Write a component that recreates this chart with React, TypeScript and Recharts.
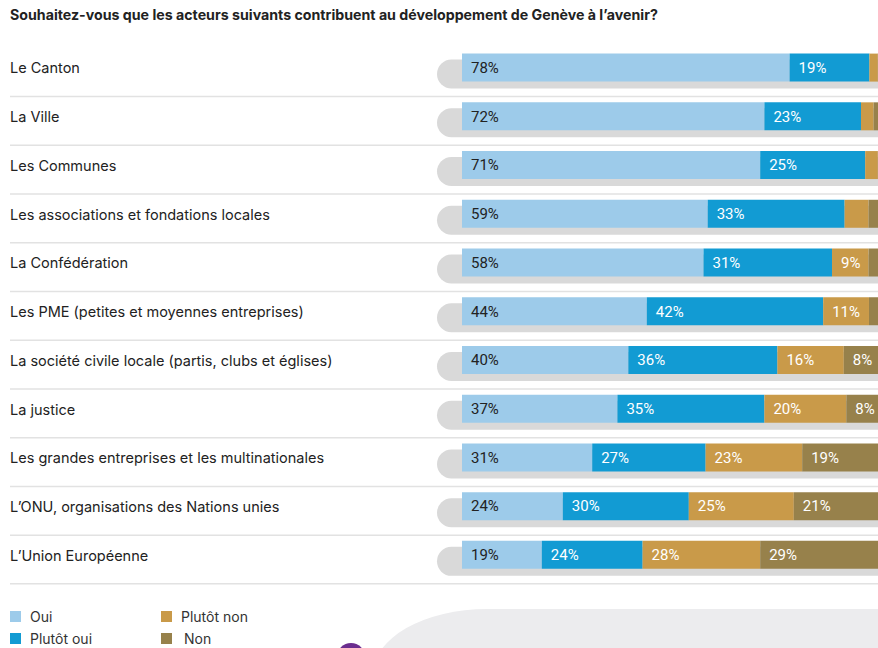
import React from "react";
import { BarChart, Bar, XAxis, YAxis, LabelList } from "recharts";

const title = "Souhaitez-vous que les acteurs suivants contribuent au développement de Genève à l’avenir?";

const categories = [
  "Le Canton",
  "La Ville",
  "Les Communes",
  "Les associations et fondations locales",
  "La Confédération",
  "Les PME (petites et moyennes entreprises)",
  "La société civile locale (partis, clubs et églises)",
  "La justice",
  "Les grandes entreprises et les multinationales",
  "L’ONU, organisations des Nations unies",
  "L’Union Européenne",
];

const oui = [78, 72, 71, 58.5, 57.5, 44, 39.6, 37, 31, 24, 19];
const plutotOui = [19, 23, 25, 32.6, 30.6, 42, 35.5, 35, 27, 30, 24];
const plutotNon = [2, 3, 3, 5.7, 8.7, 10.9, 15.8, 19.5, 23, 25, 28];
const non = [1, 2, 1, 3.2, 3.2, 3.1, 8.4, 8.4, 19, 21, 29];

const seriesNames = ["Oui", "Plutôt oui", "Plutôt non", "Non"];
const seriesKeys = ["oui", "plutotOui", "plutotNon", "non"];
const colors = ["#9dcbea", "#129bd3", "#c99a49", "#97814b"];
const labelColors = ["#222222", "#ffffff", "#ffffff", "#ffffff"];

const data = categories.map((c, i) => ({
  name: c,
  oui: oui[i],
  plutotOui: plutotOui[i],
  plutotNon: plutotNon[i],
  non: non[i],
}));

const FONT = "Inter, 'Noto Sans', sans-serif";
const VFONT = "Roboto, 'Noto Sans', sans-serif";

const CategoryTick = (props: any) => {
  const { y, payload } = props;
  return (
    <text x={10} y={y} textAnchor="start" dominantBaseline="central" fontFamily={FONT} fontSize={14.5} fill="#222">
      {payload.value}
    </text>
  );
};

const TrackBackground = (props: any) => {
  const { x, y, width, height } = props;
  return (
    <g>
      <rect x={x - 25} y={y + 6} width={width + 40} height={height + 1} rx={14.5} ry={14.5} fill="#d9d9d9" />
      <line x1={10} x2={900} y1={y + 43} y2={y + 43} stroke="#e2e2e2" strokeWidth={1.5} />
    </g>
  );
};

const fmt = (v: any) => (v >= 7 ? `${Math.round(v)}%` : "");

export default function App() {
  return (
    <div style={{ position: "absolute", left: 0, top: 0, width: 878, height: 648, overflow: "hidden", background: "#fff" }}>
      <div style={{ position: "absolute", left: 373, top: 609, width: 700, height: 200, background: "#ececee", borderTopLeftRadius: "114px 65px" }} />
      <div style={{ position: "absolute", left: 337, top: 643, width: 28, height: 28, borderRadius: "50%", background: "#6b2d8e" }} />
      <div style={{ position: "absolute", left: 10, top: 6, fontFamily: FONT, fontWeight: 700, fontSize: 14.2, color: "#222", whiteSpace: "nowrap" }}>
        {title}
      </div>
      <div style={{ position: "absolute", left: 0, top: 0 }}>
        <BarChart
          width={900}
          height={648}
          data={data}
          layout="vertical"
          margin={{ top: 43.6, right: 18, bottom: 68.4, left: 0 }}
          barSize={28}
        >
          <XAxis type="number" domain={[0, 100]} hide />
          <YAxis type="category" dataKey="name" width={462} tickLine={false} axisLine={false} tick={<CategoryTick />} interval={0} />
          {seriesKeys.map((k, i) => (
            <Bar
              key={k}
              dataKey={k}
              name={seriesNames[i]}
              stackId="a"
              fill={colors[i]}
              isAnimationActive={false}
              background={i === 0 ? <TrackBackground /> : undefined}
            >
              <LabelList dataKey={k} position="insideLeft" offset={9} formatter={fmt} fill={labelColors[i]} fontFamily={VFONT} fontSize={15} />
            </Bar>
          ))}
        </BarChart>
      </div>
      <div style={{ position: "absolute", left: 0, top: 605, fontFamily: FONT, fontSize: 14, color: "#333" }}>
        {seriesNames.map((n, i) => {
          const col = i < 2 ? 0 : 1;
          const row = i % 2;
          return (
            <div key={n} style={{ position: "absolute", left: col === 0 ? 10 : 161, top: row * 22, display: "flex", alignItems: "center", whiteSpace: "nowrap", height: 22 }}>
              <span style={{ display: "inline-block", width: 11, height: 11, background: colors[i], marginRight: i === 3 ? 12 : 9 }} />
              <span>{n}</span>
            </div>
          );
        })}
      </div>
    </div>
  );
}
